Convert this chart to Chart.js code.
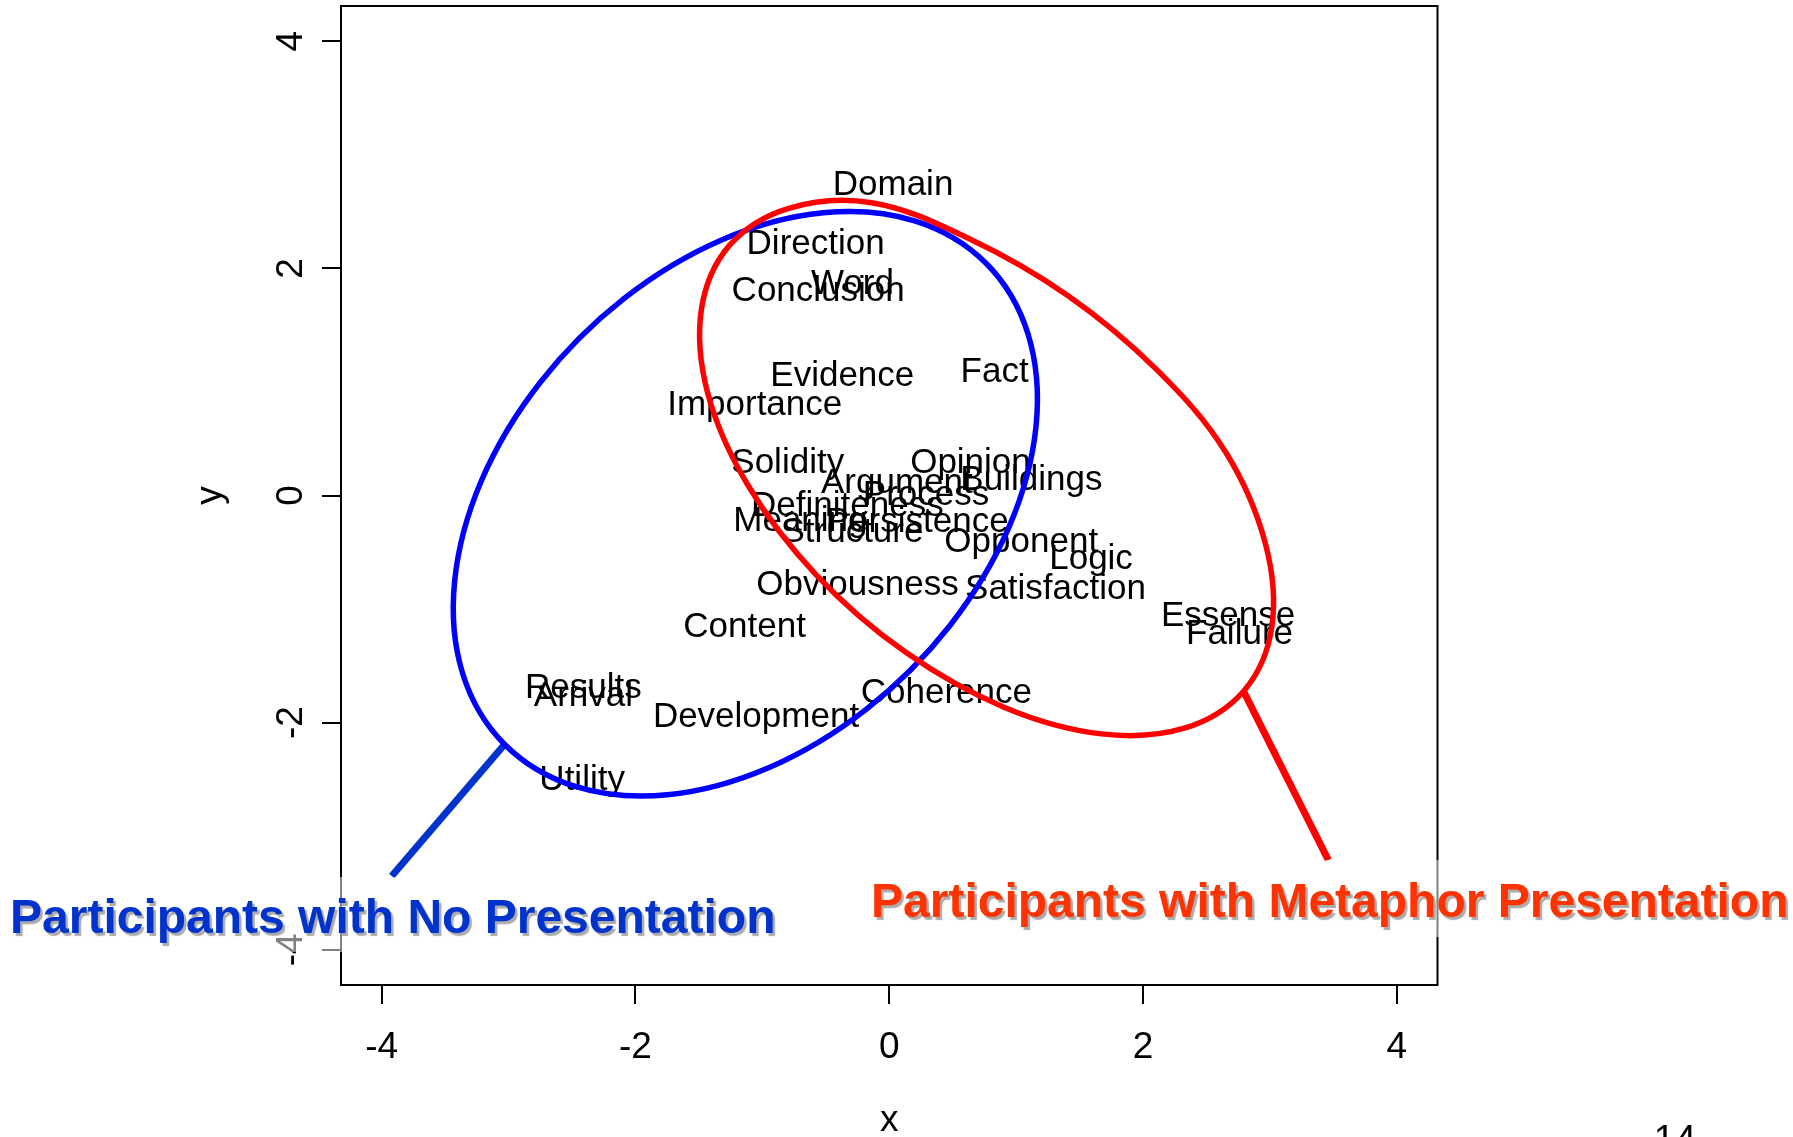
<!DOCTYPE html>
<html><head><meta charset="utf-8">
<script src="https://cdn.jsdelivr.net/npm/chart.js@4.4.1/dist/chart.umd.min.js"></script>
<style>html,body{margin:0;padding:0;background:#fff;overflow:hidden}canvas{display:block}</style>
</head><body>
<canvas id="c" width="1793" height="1137"></canvas>
<script>
// ---- data ----
const words = ["Domain","Direction","Word","Conclusion","Evidence","Fact","Importance","Solidity","Opinion","Argument","Buildings","Process","Definiteness","Meaning","Persistence","Structure","Opponent","Logic","Obviousness","Satisfaction","Content","Essense","Failure","Results","Arrival","Development","Coherence","Utility"];
const wordX = [0.03,-0.58,-0.29,-0.56,-0.37,0.83,-1.06,-0.80,0.64,0.06,1.12,0.29,-0.33,-0.70,0.22,-0.29,1.04,1.59,-0.25,1.31,-1.14,2.67,2.76,-2.41,-2.41,-1.05,0.45,-2.42];
const wordY = [2.76,2.24,1.88,1.82,1.07,1.11,0.82,0.31,0.31,0.13,0.16,0.03,-0.07,-0.20,-0.21,-0.30,-0.39,-0.54,-0.77,-0.80,-1.14,-1.04,-1.20,-1.67,-1.74,-1.93,-1.72,-2.48];

const xTicks = [-4,-2,0,2,4];
const yTicks = [-4,-2,0,2,4];

// outline of the "No Presentation" group (closed loop)
const blueX = [0.761,1.094,1.157,0.944,0.480,-0.177,-0.951,-1.748,-2.468,-3.030,-3.362,-3.425,-3.213,-2.749,-2.091,-1.317,-0.521,0.200];
const blueY = [2.047,1.420,0.614,-0.277,-1.142,-1.878,-2.397,-2.635,-2.564,-2.192,-1.565,-0.759,0.132,0.997,1.733,2.252,2.489,2.419];
// outline of the "Metaphor Presentation" group (closed loop)
const redX = [2.792,2.325,1.671,0.908,0.127,-0.576,-1.117,-1.432,-1.480,-1.259,-0.792,-0.138,0.623,1.406,2.109,2.650,2.965,3.014];
const redY = [-1.723,-2.049,-2.099,-1.866,-1.379,-0.698,0.097,0.908,1.640,2.202,2.529,2.578,2.265,1.761,1.106,0.383,-0.428,-1.161];

// callout pointer lines
const bluePointerX = [-3.03,-3.92];
const bluePointerY = [-2.19,-3.35];
const redPointerX = [2.79,3.46];
const redPointerY = [-1.72,-3.21];

const calloutTexts = ["Participants with No Presentation","Participants with Metaphor Presentation"];
const pageNumber = "14";

// ---- helpers ----
const FONT = "'Liberation Sans', Arial, Helvetica, sans-serif";
function pts(xs, ys){ return xs.map((x,i)=>({x:x, y:ys[i]})); }
function loop(xs, ys){
  const p = pts(xs, ys);
  return [p[p.length-1], ...p, p[0], p[1]];
}
function loopDataset(xs, ys, color){
  const data = loop(xs, ys);
  const last = data.length - 1;
  return {
    data, showLine:true, tension:0.36, pointRadius:0, borderWidth:5.5, borderColor:color,
    borderCapStyle:'round', borderJoinStyle:'round',
    segment:{ borderColor: ctx => (ctx.p0DataIndex === 0 || ctx.p1DataIndex === last) ? 'rgba(0,0,0,0)' : color }
  };
}

const labelPlugin = {
  id:'labels',
  beforeDatasetsDraw(chart){
    const ctx = chart.ctx;
    const meta = chart.getDatasetMeta(chart.data.datasets.length - 1);
    ctx.save();
    ctx.font = "35px " + FONT;
    ctx.fillStyle = '#000';
    ctx.textAlign = 'center';
    ctx.textBaseline = 'alphabetic';
    meta.data.forEach((el, i) => {
      ctx.fillText(words[i], el.x, el.y + 12.5);
    });
    ctx.restore();
  },
  afterDraw(chart){
    const ctx = chart.ctx;
    const a = chart.chartArea;
    const ys = chart.scales.y;
    ctx.save();
    // frame
    ctx.strokeStyle = '#000';
    ctx.lineWidth = 2;
    ctx.strokeRect(a.left, a.top, a.right - a.left, a.bottom - a.top);
    // rotated y tick labels
    ctx.font = "37px " + FONT;
    ctx.fillStyle = '#000';
    ctx.textAlign = 'center';
    ctx.textBaseline = 'alphabetic';
    yTicks.forEach(v => {
      const py = ys.getPixelForValue(v);
      ctx.save();
      ctx.translate(a.left - 39, py);
      ctx.rotate(-Math.PI/2);
      ctx.fillText(String(v), 0, 0);
      ctx.restore();
    });
    // semi-transparent text boxes
    ctx.fillStyle = 'rgba(255,255,255,0.5)';
    ctx.fillRect(0, 877, 790, 75);
    ctx.fillRect(862, 860, 931, 77);
    // callout texts
    ctx.font = "bold 48px " + FONT;
    ctx.textAlign = 'left';
    ctx.shadowColor = 'rgba(150,150,150,0.8)';
    ctx.shadowOffsetX = 2.5;
    ctx.shadowOffsetY = 2.5;
    ctx.shadowBlur = 1;
    ctx.fillStyle = '#0033CC';
    ctx.fillText(calloutTexts[0], 10, 933);
    ctx.fillStyle = '#FF3300';
    ctx.fillText(calloutTexts[1], 871, 917);
    ctx.shadowColor = 'rgba(0,0,0,0)';
    // page number
    ctx.font = "38px " + FONT;
    ctx.fillStyle = '#000';
    ctx.textAlign = 'center';
    ctx.fillText(pageNumber, 1675, 1152);
    ctx.restore();
  }
};

new Chart(document.getElementById('c'), {
  type:'scatter',
  data:{
    datasets:[
      loopDataset(redX, redY, 'rgb(255,0,0)'),
      {data: pts(redPointerX, redPointerY), showLine:true, tension:0, pointRadius:0, borderWidth:7, borderColor:'rgb(255,0,0)', borderCapStyle:'butt'},
      loopDataset(blueX, blueY, 'rgb(0,0,255)'),
      {data: pts(bluePointerX, bluePointerY), showLine:true, tension:0, pointRadius:0, borderWidth:7, borderColor:'rgb(0,51,204)', borderCapStyle:'butt'},
      {data: pts(wordX, wordY), pointRadius:0, showLine:false}
    ]
  },
  options:{
    responsive:false, devicePixelRatio:1, animation:false, events:[],
    layout:{padding:{left:0, right:355.5, top:6, bottom:0}},
    plugins:{legend:{display:false}, tooltip:{enabled:false}},
    scales:{
      x:{
        type:'linear', min:-4.32, max:4.32,
        afterBuildTicks: s => { s.ticks = xTicks.map(v => ({value:v})); },
        afterFit: s => { s.height = 152; },
        grid:{drawOnChartArea:false, drawTicks:true, tickLength:19, color:'#000', lineWidth:2},
        border:{display:false},
        ticks:{color:'#000', font:{family:FONT, size:37}, padding:22, maxRotation:0, autoSkip:false},
        title:{display:true, text:'x', color:'#000', font:{family:FONT, size:37, lineHeight:0.9}, padding:0}
      },
      y:{
        type:'linear', min:-4.31, max:4.31,
        afterBuildTicks: s => { s.ticks = yTicks.map(v => ({value:v})); },
        afterFit: s => { s.width = 341; },
        grid:{drawOnChartArea:false, drawTicks:true, tickLength:19, color:'#000', lineWidth:2},
        border:{display:false},
        ticks:{display:false},
        title:{display:true, text:'y', color:'#000', font:{family:FONT, size:37, lineHeight:1.2}, padding:{top:189, bottom:0}}
      }
    }
  },
  plugins:[labelPlugin]
});
</script>
</body></html>
